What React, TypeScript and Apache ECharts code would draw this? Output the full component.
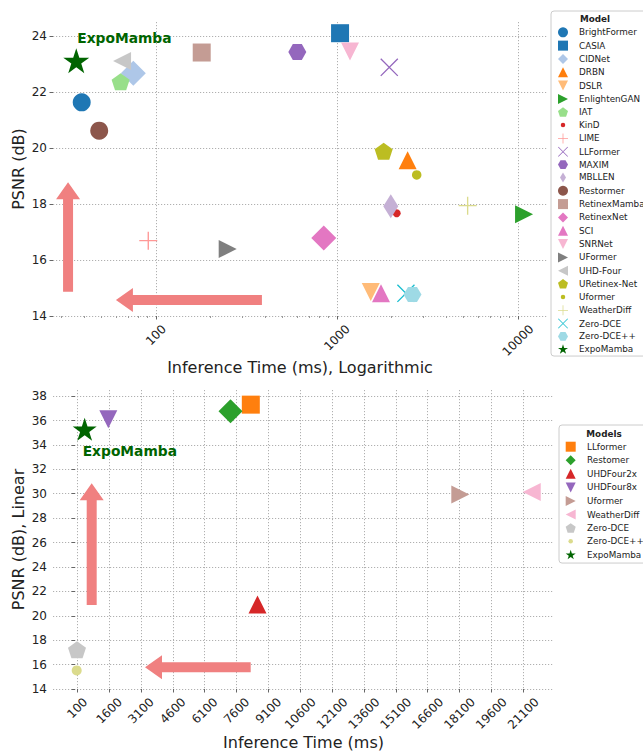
import React, { useEffect, useRef } from 'react';
import * as echarts from 'echarts';

const FONT = 'DejaVu Sans';

// ---------------- Top chart data (log x) ----------------
const topModels = [
  'BrightFormer', 'CASIA', 'CIDNet', 'DRBN', 'DSLR', 'EnlightenGAN', 'IAT', 'KinD', 'LIME',
  'LLFormer', 'MAXIM', 'MBLLEN', 'Restormer', 'RetinexMamba', 'RetinexNet', 'SCI', 'SNRNet',
  'UFormer', 'UHD-Four', 'URetinex-Net', 'Uformer', 'WeatherDiff', 'Zero-DCE', 'Zero-DCE++', 'ExpoMamba',
];
const topTimeMs = [
  38.9, 1040, 75, 2457, 1537, 10800, 63.8, 2137, 90.7,
  1945, 604, 1983, 48.6, 179, 845, 1750, 1180,
  249, 65, 1811, 2757, 5270, 2404, 2613, 36.3,
];
const topPsnrDb = [
  21.63, 24.1, 22.67, 19.56, 14.86, 17.63, 22.37, 17.67, 16.69,
  22.88, 23.43, 17.92, 20.62, 23.41, 16.79, 14.81, 23.45,
  16.39, 23.11, 19.88, 19.04, 17.94, 14.81, 14.77, 23.12,
];
const topTimeTicks = [100, 1000, 10000];
const topTimeMinorTicks = [30, 40, 50, 60, 70, 80, 90, 200, 300, 400, 500, 600, 700, 800, 900, 2000, 3000, 4000, 5000, 6000, 7000, 8000, 9000];
const topPsnrTicks = [14, 16, 18, 20, 22, 24];
// arrows: [fromTime, fromPsnr, toTime, toPsnr]
const topArrows = [
  [32.7, 14.87, 32.7, 18.78],
  [385, 14.57, 60.1, 14.57],
];

// ---------------- Bottom chart data (linear x) ----------------
const bottomModels = ['LLformer', 'Restomer', 'UHDFour2x', 'UHDFour8x', 'Uformer', 'WeatherDiff', 'Zero-DCE', 'Zero-DCE++', 'ExpoMamba'];
const bottomTimeMs = [8270, 7314, 8586, 1560, 18135, 21498, 86, 72, 448];
const bottomPsnrDb = [37.3, 36.76, 20.92, 36.1, 29.93, 30.15, 17.22, 15.52, 35.28];
const bottomTimeTicks = [100, 1600, 3100, 4600, 6100, 7600, 9100, 10600, 12100, 13600, 15100, 16600, 18100, 19600, 21100];
const bottomPsnrTicks = [14, 16, 18, 20, 22, 24, 26, 28, 30, 32, 34, 36, 38];
const bottomArrows = [
  [778, 20.88, 778, 30.85],
  [8265, 15.78, 3288, 15.78],
];

// ---------------- Marker shapes & styles ----------------
const SYM: Record<string, string> = {
  circle: 'circle',
  square: 'rect',
  diamond: 'diamond',
  thinDiamond: 'path://M0 -1 L0.6 0 L0 1 L-0.6 0 Z',
  triUp: 'triangle',
  triDown: 'path://M-1 -1 L1 -1 L0 1 Z',
  triLeft: 'path://M1 -1 L1 1 L-1 0 Z',
  triRight: 'path://M-1 -1 L1 0 L-1 1 Z',
  pentagon: 'path://M0 -1 L0.951 -0.309 L0.588 0.809 L-0.588 0.809 L-0.951 -0.309 Z',
  hexagon: 'path://M-1 0 L-0.5 -0.866 L0.5 -0.866 L1 0 L0.5 0.866 L-0.5 0.866 Z',
  star: 'path://M0 -1 L0.2245 -0.309 L0.951 -0.309 L0.3633 0.118 L0.5878 0.809 L0 0.382 L-0.5878 0.809 L-0.3633 0.118 L-0.951 -0.309 L-0.2245 -0.309 Z',
  plus: 'path://M-1 -0.075 L1 -0.075 L1 0.075 L-1 0.075 Z M-0.075 -1 L0.075 -1 L0.075 1 L-0.075 1 Z',
  cross: 'path://M-0.945 -1.055 L1.055 0.945 L0.945 1.055 L-1.055 -0.945 Z M1.055 -0.945 L-0.945 1.055 L-1.055 0.945 L0.945 -1.055 Z',
  dotIcon: 'path://M-10 -10 M10 10 M-4.5 0 A4.5 4.5 0 1 1 4.5 0 A4.5 4.5 0 1 1 -4.5 0 Z',
};

type St = { symbol: string; size: number | number[]; color: string; legendIcon?: string };

const topStyle: Record<string, St> = {
  'BrightFormer': { symbol: SYM.circle, size: 18, color: '#1f77b4' },
  'CASIA': { symbol: SYM.square, size: 18, color: '#1f77b4' },
  'CIDNet': { symbol: SYM.diamond, size: 25, color: '#aec7e8' },
  'DRBN': { symbol: SYM.triUp, size: 18, color: '#ff7f0e' },
  'DSLR': { symbol: SYM.triDown, size: 18, color: '#ffbb78' },
  'EnlightenGAN': { symbol: SYM.triRight, size: 18, color: '#2ca02c' },
  'IAT': { symbol: SYM.pentagon, size: [18, 17], color: '#98df8a' },
  'KinD': { symbol: SYM.circle, size: 8, color: '#d62728', legendIcon: SYM.dotIcon },
  'LIME': { symbol: SYM.plus, size: 18, color: '#ff9896' },
  'LLFormer': { symbol: SYM.cross, size: 18, color: '#9467bd' },
  'MAXIM': { symbol: SYM.hexagon, size: [18, 16], color: '#9467bd' },
  'MBLLEN': { symbol: SYM.diamond, size: [15, 24], color: '#c5b0d5', legendIcon: SYM.thinDiamond },
  'Restormer': { symbol: SYM.circle, size: 18, color: '#8c564b' },
  'RetinexMamba': { symbol: SYM.square, size: 18, color: '#c49c94' },
  'RetinexNet': { symbol: SYM.diamond, size: 25, color: '#e377c2' },
  'SCI': { symbol: SYM.triUp, size: 18, color: '#e377c2' },
  'SNRNet': { symbol: SYM.triDown, size: 18, color: '#f7b6d2' },
  'UFormer': { symbol: SYM.triRight, size: 18, color: '#7f7f7f' },
  'UHD-Four': { symbol: SYM.triLeft, size: 18, color: '#c7c7c7' },
  'URetinex-Net': { symbol: SYM.pentagon, size: [18, 17], color: '#bcbd22' },
  'Uformer': { symbol: SYM.circle, size: 9.5, color: '#bcbd22', legendIcon: SYM.dotIcon },
  'WeatherDiff': { symbol: SYM.plus, size: 18, color: '#dbdb8d' },
  'Zero-DCE': { symbol: SYM.cross, size: 18, color: '#17becf' },
  'Zero-DCE++': { symbol: SYM.hexagon, size: [18, 15], color: '#9edae5' },
  'ExpoMamba': { symbol: SYM.star, size: [26, 25], color: '#006400' },
};

const bottomStyle: Record<string, St> = {
  'LLformer': { symbol: SYM.square, size: 18, color: '#ff7f0e' },
  'Restomer': { symbol: SYM.diamond, size: 24, color: '#2ca02c' },
  'UHDFour2x': { symbol: SYM.triUp, size: 18, color: '#d62728' },
  'UHDFour8x': { symbol: SYM.triDown, size: 18, color: '#9467bd' },
  'Uformer': { symbol: SYM.triRight, size: 18, color: '#c49c94' },
  'WeatherDiff': { symbol: SYM.triLeft, size: 18, color: '#f7b6d2' },
  'Zero-DCE': { symbol: SYM.pentagon, size: [18, 17], color: '#c7c7c7' },
  'Zero-DCE++': { symbol: SYM.circle, size: 10, color: '#dbdb8d', legendIcon: SYM.dotIcon },
  'ExpoMamba': { symbol: SYM.star, size: [24, 23], color: '#006400' },
};

// ---------------- Helpers ----------------
const TEXT = '#222';
const GRID_LINE = { show: true, lineStyle: { type: [1.2, 1.8] as any, color: '#b0b0b0', width: 1 } };
const CHAR_W = 7.63;
const tickRich = {
  l3: { fontSize: 12, color: TEXT, fontFamily: FONT },
  l4: { fontSize: 12, color: TEXT, fontFamily: FONT, padding: [CHAR_W / 2, CHAR_W / 2, 0, 0] },
  l5: { fontSize: 12, color: TEXT, fontFamily: FONT, padding: [CHAR_W, CHAR_W, 0, 0] },
};
const tickFmt = (v: number) => {
  const s = String(Math.round(v));
  const k = Math.min(5, Math.max(3, s.length));
  return `{l${k}|${s}}`;
};

const drawArrow = (_params: any, api: any) => {
  const a = api.coord([api.value(0), api.value(1)]);
  const b = api.coord([api.value(2), api.value(3)]);
  const dx = b[0] - a[0];
  const dy = b[1] - a[1];
  const len = Math.hypot(dx, dy) || 1;
  const ux = dx / len, uy = dy / len;
  const nx = -uy, ny = ux;
  const hw = 5, hh = 12, hl = 17;
  const bx = b[0] - ux * hl, by = b[1] - uy * hl;
  const points = [
    [a[0] + nx * hw, a[1] + ny * hw],
    [bx + nx * hw, by + ny * hw],
    [bx + nx * hh, by + ny * hh],
    [b[0], b[1]],
    [bx - nx * hh, by - ny * hh],
    [bx - nx * hw, by - ny * hw],
    [a[0] - nx * hw, a[1] - ny * hw],
  ];
  return { type: 'polygon', shape: { points }, style: { fill: '#f08080' } };
};

const expoLabel = (offset: number[]) => ({
  show: true,
  formatter: '{a}',
  position: 'inside',
  align: 'left',
  verticalAlign: 'middle',
  offset,
  fontSize: 13.8,
  fontWeight: 'bold',
  color: '#006400',
  fontFamily: FONT,
});

const legendItems = (models: string[], styles: Record<string, St>) =>
  models.map((name) => ({
    name,
    icon: styles[name].legendIcon ?? styles[name].symbol,
    itemStyle: { color: styles[name].color, opacity: 1 },
  }));

function buildOption() {
  const series: any[] = [];
  series.push({
    type: 'custom', name: '__arrowsTop', xAxisIndex: 0, yAxisIndex: 0,
    data: topArrows, renderItem: drawArrow, silent: true, z: 1, clip: false,
    encode: { x: [0, 2], y: [1, 3] },
  });
  topModels.forEach((name, i) => {
    const st = topStyle[name];
    series.push({
      type: 'scatter', name, xAxisIndex: 0, yAxisIndex: 0,
      data: [[topTimeMs[i], topPsnrDb[i]]],
      symbol: st.symbol, symbolSize: st.size,
      itemStyle: { color: st.color, opacity: 1 },
      silent: true, z: 2,
      label: name === 'ExpoMamba' ? expoLabel([1, -23]) : { show: false },
    });
  });
  series.push({
    type: 'custom', name: '__arrowsBottom', xAxisIndex: 2, yAxisIndex: 1,
    data: bottomArrows, renderItem: drawArrow, silent: true, z: 1, clip: false,
    encode: { x: [0, 2], y: [1, 3] },
  });
  bottomModels.forEach((name, i) => {
    const st = bottomStyle[name];
    series.push({
      type: 'scatter', name, xAxisIndex: 2, yAxisIndex: 1,
      data: [[bottomTimeMs[i], bottomPsnrDb[i]]],
      symbol: st.symbol, symbolSize: st.size,
      itemStyle: { color: st.color, opacity: 1 },
      silent: true, z: 2,
      label: name === 'ExpoMamba' ? expoLabel([-2, 22]) : { show: false },
    });
  });

  const nameStyle = { fontSize: 16, color: TEXT, fontFamily: FONT };
  const yLabel = { fontSize: 12, color: TEXT, fontFamily: FONT, margin: 6 };
  const tick = { show: true, length: 3.5, lineStyle: { color: '#666', width: 1 } };

  const legendBase = {
    orient: 'vertical',
    itemWidth: 10,
    itemHeight: 10,
    borderColor: '#cccccc',
    borderWidth: 1,
    borderRadius: 3,
    backgroundColor: 'rgba(255,255,255,0.8)',
    selectedMode: false,
    textStyle: { fontSize: 8.8, color: TEXT, fontFamily: FONT, padding: [0, 0, 0, 6] },
    symbolRotate: 0,
  };

  return {
    animation: false,
    backgroundColor: '#ffffff',
    textStyle: { fontFamily: FONT },
    grid: [
      { left: 53, top: 22, width: 494, height: 294, outerBoundsMode: 'none', containLabel: false },
      { left: 53, top: 390, width: 501, height: 299, outerBoundsMode: 'none', containLabel: false },
    ],
    xAxis: [
      {
        type: 'log', logBase: 10, gridIndex: 0, min: 27, max: 14460,
        name: 'Inference Time (ms), Logarithmic', nameLocation: 'middle', nameGap: 43,
        nameTextStyle: nameStyle, nameMoveOverlap: false,
        axisLine: { show: false },
        axisTick: { ...tick, customValues: topTimeTicks },
        axisLabel: {
          customValues: topTimeTicks, rotate: 45, align: 'center', verticalAlign: 'middle',
          margin: 19, formatter: tickFmt, rich: tickRich, hideOverlap: false, fontSize: 12, color: TEXT,
        },
        splitLine: GRID_LINE,
        minorTick: { show: false }, minorSplitLine: { show: false },
      },
      {
        type: 'log', logBase: 10, gridIndex: 0, min: 27, max: 14460, position: 'bottom',
        axisLine: { show: false },
        axisTick: { show: true, length: 2, lineStyle: { color: '#999', width: 1 }, customValues: topTimeMinorTicks },
        axisLabel: { show: false },
        splitLine: { show: false },
      },
      {
        type: 'value', gridIndex: 1, min: -1044, max: 22546,
        name: 'Inference Time (ms)', nameLocation: 'middle', nameGap: 45,
        nameTextStyle: nameStyle, nameMoveOverlap: false,
        axisLine: { show: false },
        axisTick: { ...tick, customValues: bottomTimeTicks },
        axisLabel: {
          customValues: bottomTimeTicks, rotate: 45, align: 'center', verticalAlign: 'middle',
          margin: 19, formatter: tickFmt, rich: tickRich, hideOverlap: false, fontSize: 12, color: TEXT,
        },
        splitLine: GRID_LINE,
      },
    ],
    yAxis: [
      {
        type: 'value', gridIndex: 0, min: 14, max: 24.5,
        name: 'PSNR (dB)', nameLocation: 'middle', nameGap: 27, nameRotate: 90,
        nameTextStyle: nameStyle, nameMoveOverlap: false,
        axisLine: { show: false },
        axisTick: { ...tick, customValues: topPsnrTicks },
        axisLabel: { ...yLabel, customValues: topPsnrTicks },
        splitLine: GRID_LINE,
      },
      {
        type: 'value', gridIndex: 1, min: 14, max: 38.5,
        name: 'PSNR (dB), Linear', nameLocation: 'middle', nameGap: 27, nameRotate: 90,
        nameTextStyle: nameStyle, nameMoveOverlap: false,
        axisLine: { show: false },
        axisTick: { ...tick, customValues: bottomPsnrTicks },
        axisLabel: { ...yLabel, customValues: bottomPsnrTicks },
        splitLine: GRID_LINE,
      },
    ],
    legend: [
      {
        ...legendBase,
        left: 551, top: 11,
        padding: [16.3, 40, 2.3, 7],
        itemGap: 3.33,
        data: legendItems(topModels, topStyle),
      },
      {
        ...legendBase,
        left: 559, top: 425,
        padding: [16.7, 40, 3.7, 6.7],
        itemGap: 3.58,
        textStyle: { fontSize: 8.8, color: TEXT, fontFamily: FONT, padding: [0, 0, 0, 6.3] },
        data: legendItems(bottomModels, bottomStyle),
      },
    ],
    graphic: [
      {
        type: 'text', x: 595, y: 19, z: 100,
        style: { text: 'Model', fontSize: 8.8, fontWeight: 'bold', fontFamily: FONT, fill: TEXT, align: 'center', verticalAlign: 'middle' },
      },
      {
        type: 'text', x: 604, y: 434, z: 100,
        style: { text: 'Models', fontSize: 8.8, fontWeight: 'bold', fontFamily: FONT, fill: TEXT, align: 'center', verticalAlign: 'middle' },
      },
    ],
    series,
  };
}

export default function App() {
  const ref = useRef<HTMLDivElement>(null);
  useEffect(() => {
    document.body.style.margin = '0';
    const chart = echarts.init(ref.current as HTMLDivElement, null, { renderer: 'svg' });
    chart.setOption(buildOption() as any);
    return () => {
      chart.dispose();
    };
  }, []);
  return <div ref={ref} style={{ width: 643, height: 751, background: '#ffffff' }} />;
}
